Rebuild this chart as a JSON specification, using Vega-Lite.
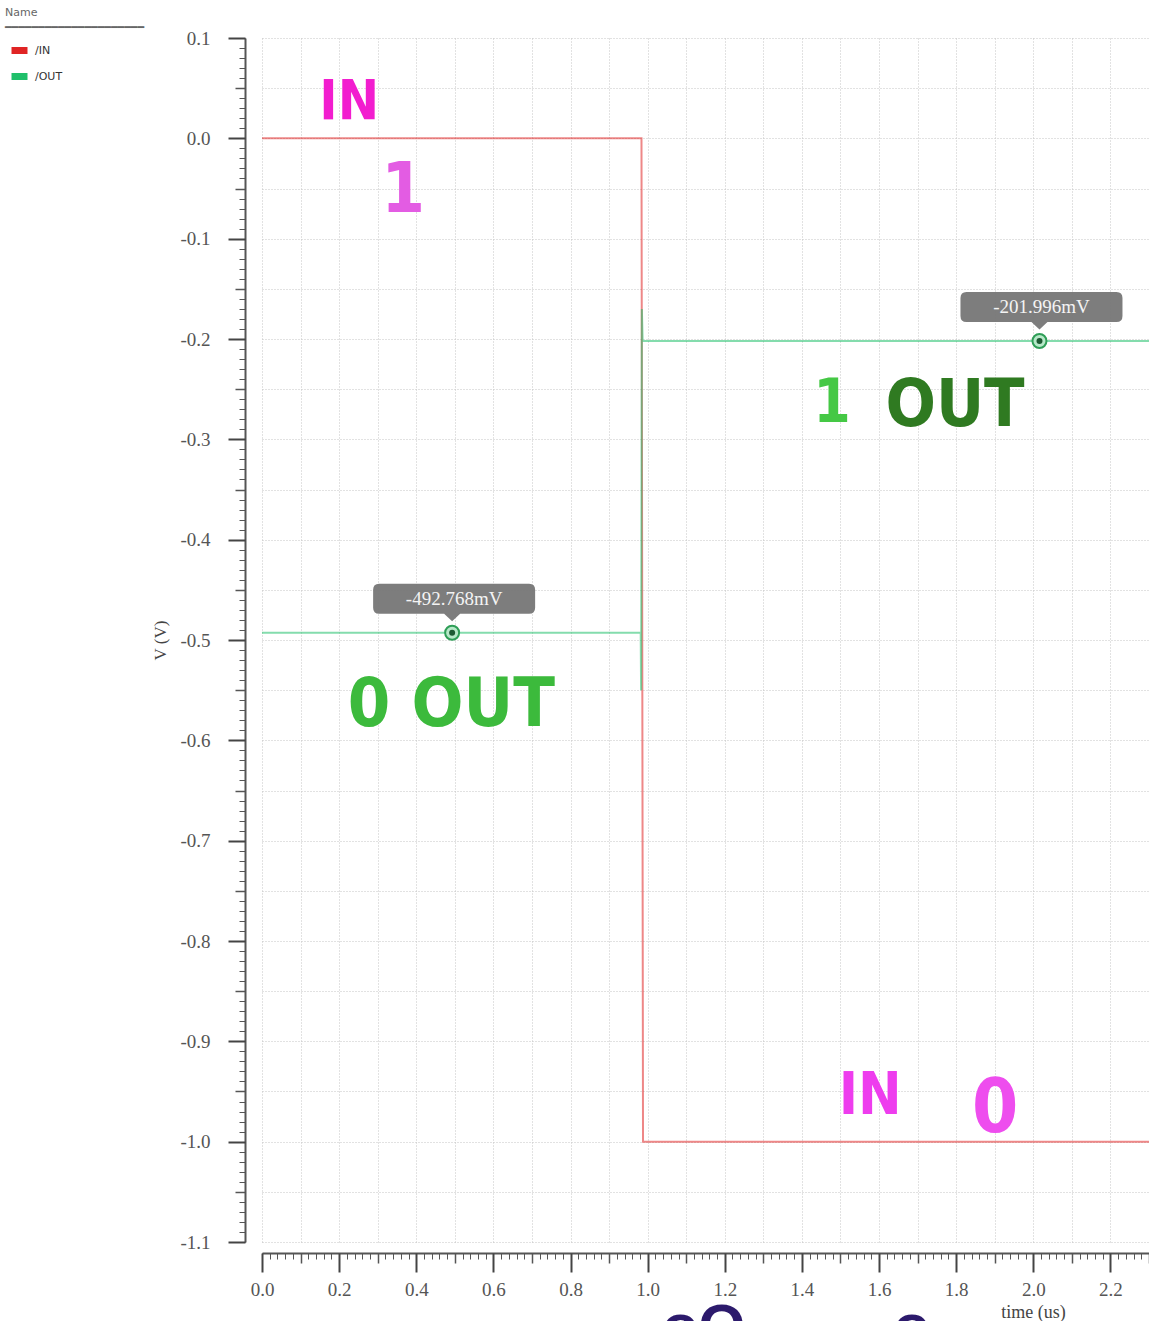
{
  "$schema": "https://vega.github.io/schema/vega-lite/v6.json",
  "width": 887,
  "height": 1204,
  "autosize": {"type": "none"},
  "padding": {"left": 262, "top": 38, "right": 0, "bottom": 79},
  "background": "white",
  "config": {"view": {"stroke": null}},
  "datasets": {
    "wave": [
      {"signal": "/IN", "t": 0, "v": 0},
      {"signal": "/IN", "t": 0.984, "v": 0},
      {"signal": "/IN", "t": 0.988, "v": -1.0},
      {"signal": "/IN", "t": 2.3, "v": -1.0},
      {"signal": "/OUT", "t": 0, "v": -0.492768},
      {"signal": "/OUT", "t": 0.982, "v": -0.492768},
      {"signal": "/OUT", "t": 0.983, "v": -0.55},
      {"signal": "/OUT", "t": 0.985, "v": -0.17},
      {"signal": "/OUT", "t": 0.987, "v": -0.201996},
      {"signal": "/OUT", "t": 2.3, "v": -0.201996}
    ],
    "markers": [
      {"t": 0.493, "v": -0.492768, "label": "-492.768mV"},
      {"t": 2.016, "v": -0.201996, "label": "-201.996mV"}
    ],
    "notes": [
      {"id": "inHigh", "t": 0.226, "v": 0.036, "text": "IN"},
      {"id": "oneIn", "t": 0.366, "v": -0.052, "text": "1"},
      {"id": "zeroOut", "t": 0.491, "v": -0.566, "text": "0 OUT"},
      {"id": "oneOut", "t": 1.478, "v": -0.265, "text": "1"},
      {"id": "outHigh", "t": 1.797, "v": -0.267, "text": "OUT"},
      {"id": "inLow", "t": 1.577, "v": -0.955, "text": "IN"},
      {"id": "zeroIn", "t": 1.901, "v": -0.968, "text": "0"},
      {"id": "below", "t": 1.145, "v": -1.186, "text": "oO"},
      {"id": "below", "t": 1.685, "v": -1.186, "text": "o"}
    ]
  },
  "layer": [
    {
      "data": {"name": "wave"},
      "mark": {"type": "line", "strokeWidth": 2, "opacity": 0.55},
      "encoding": {
        "x": {
          "field": "t", "type": "quantitative",
          "scale": {"domain": [0, 2.3], "nice": false, "zero": false},
          "axis": {
            "orient": "bottom", "title": null, "labels": false, "ticks": false, "domain": false,
            "grid": true, "gridColor": "#c4c4c4", "gridDash": [1, 2], "gridWidth": 1,
            "values": [0,0.1,0.2,0.3,0.4,0.5,0.6,0.7,0.8,0.9,1,1.1,1.2,1.3,1.4,1.5,1.6,1.7,1.8,1.9,2,2.1,2.2,2.3]
          }
        },
        "y": {
          "field": "v", "type": "quantitative",
          "scale": {"domain": [-1.1, 0.1], "nice": false, "zero": false},
          "axis": {
            "orient": "left", "title": null, "labels": false, "ticks": false, "domain": false,
            "grid": true, "gridColor": "#c4c4c4", "gridDash": [1, 2], "gridWidth": 1,
            "values": [0.1,0.05,0,-0.05,-0.1,-0.15,-0.2,-0.25,-0.3,-0.35,-0.4,-0.45,-0.5,-0.55,-0.6,-0.65,-0.7,-0.75,-0.8,-0.85,-0.9,-0.95,-1,-1.05,-1.1]
          }
        },
        "color": {
          "field": "signal", "type": "nominal",
          "scale": {"domain": ["/IN", "/OUT"], "range": ["#e02424", "#1fbf6a"]},
          "legend": {
            "orient": "none", "legendX": -257, "legendY": -31, "padding": 0,
            "title": ["Name", "━━━━━━━━━━━━━━━━━━━━━"],
            "titleFont": "DejaVu Sans", "titleFontSize": 11, "titleFontWeight": "normal",
            "titleColor": "#666", "titleLineHeight": 15, "titlePadding": 6,
            "labelFont": "DejaVu Sans", "labelFontSize": 11, "labelColor": "#333", "labelOffset": 4,
            "symbolType": "M-1,0H1", "symbolSize": 256, "symbolOffset": 3,
            "symbolStrokeWidth": 7, "symbolOpacity": 1, "rowPadding": -6
          }
        }
      }
    },
    {
      "data": {"name": "markers"},
      "mark": {"type": "point", "shape": "circle", "size": 196, "filled": true, "fill": "#b6e8c8", "stroke": "#2f9e57", "strokeWidth": 2, "opacity": 1},
      "encoding": {
        "x": {
          "field": "t", "type": "quantitative",
          "axis": {
            "orient": "bottom", "title": null, "labels": false, "grid": false,
            "offset": 11, "domain": true, "domainColor": "#555", "domainWidth": 2,
            "ticks": true, "tickSize": 6, "tickColor": "#555", "tickWidth": 1,
            "values": [0,0.02,0.04,0.06,0.08,0.1,0.12,0.14,0.16,0.18,0.2,0.22,0.24,0.26,0.28,0.3,0.32,0.34,0.36,0.38,0.4,0.42,0.44,0.46,0.48,0.5,0.52,0.54,0.56,0.58,0.6,0.62,0.64,0.66,0.68,0.7,0.72,0.74,0.76,0.78,0.8,0.82,0.84,0.86,0.88,0.9,0.92,0.94,0.96,0.98,1,1.02,1.04,1.06,1.08,1.1,1.12,1.14,1.16,1.18,1.2,1.22,1.24,1.26,1.28,1.3,1.32,1.34,1.36,1.38,1.4,1.42,1.44,1.46,1.48,1.5,1.52,1.54,1.56,1.58,1.6,1.62,1.64,1.66,1.68,1.7,1.72,1.74,1.76,1.78,1.8,1.82,1.84,1.86,1.88,1.9,1.92,1.94,1.96,1.98,2,2.02,2.04,2.06,2.08,2.1,2.12,2.14,2.16,2.18,2.2,2.22,2.24,2.26,2.28,2.3]
          }
        },
        "y": {
          "field": "v", "type": "quantitative",
          "axis": {
            "orient": "left", "title": null, "labels": false, "grid": false,
            "offset": 17, "domain": true, "domainColor": "#555", "domainWidth": 2,
            "ticks": true, "tickSize": 6, "tickColor": "#555", "tickWidth": 1,
            "values": [0.1,0.09,0.08,0.07,0.06,0.05,0.04,0.03,0.02,0.01,0,-0.01,-0.02,-0.03,-0.04,-0.05,-0.06,-0.07,-0.08,-0.09,-0.1,-0.11,-0.12,-0.13,-0.14,-0.15,-0.16,-0.17,-0.18,-0.19,-0.2,-0.21,-0.22,-0.23,-0.24,-0.25,-0.26,-0.27,-0.28,-0.29,-0.3,-0.31,-0.32,-0.33,-0.34,-0.35,-0.36,-0.37,-0.38,-0.39,-0.4,-0.41,-0.42,-0.43,-0.44,-0.45,-0.46,-0.47,-0.48,-0.49,-0.5,-0.51,-0.52,-0.53,-0.54,-0.55,-0.56,-0.57,-0.58,-0.59,-0.6,-0.61,-0.62,-0.63,-0.64,-0.65,-0.66,-0.67,-0.68,-0.69,-0.7,-0.71,-0.72,-0.73,-0.74,-0.75,-0.76,-0.77,-0.78,-0.79,-0.8,-0.81,-0.82,-0.83,-0.84,-0.85,-0.86,-0.87,-0.88,-0.89,-0.9,-0.91,-0.92,-0.93,-0.94,-0.95,-0.96,-0.97,-0.98,-0.99,-1,-1.01,-1.02,-1.03,-1.04,-1.05,-1.06,-1.07,-1.08,-1.09,-1.1]
          }
        }
      }
    },
    {
      "data": {"name": "markers"},
      "mark": {"type": "point", "shape": "circle", "size": 36, "filled": true, "fill": "#1d5a33", "opacity": 1},
      "encoding": {
        "x": {
          "field": "t", "type": "quantitative",
          "axis": {
            "orient": "bottom", "title": null, "labels": false, "grid": false, "domain": false,
            "offset": 11, "ticks": true, "tickSize": 10, "tickColor": "#555", "tickWidth": 1.5,
            "values": [0.1,0.3,0.5,0.7,0.9,1.1,1.3,1.5,1.7,1.9,2.1,2.3]
          }
        },
        "y": {
          "field": "v", "type": "quantitative",
          "axis": {
            "orient": "left", "title": null, "labels": false, "grid": false, "domain": false,
            "offset": 17, "ticks": true, "tickSize": 10, "tickColor": "#555", "tickWidth": 1.5,
            "values": [0.05,-0.05,-0.15,-0.25,-0.35,-0.45,-0.55,-0.65,-0.75,-0.85,-0.95,-1.05]
          }
        }
      }
    },
    {
      "data": {"name": "markers"},
      "mark": {
        "type": "point", "filled": true, "fill": "#767676", "opacity": 0.95, "strokeWidth": 0,
        "size": 40000,
        "shape": "M-0.73,-0.49H0.77Q0.83,-0.49 0.83,-0.43V-0.25Q0.83,-0.19 0.77,-0.19H0.08L0,-0.115L-0.08,-0.19H-0.73Q-0.79,-0.19 -0.79,-0.25V-0.43Q-0.79,-0.49 -0.73,-0.49Z"
      },
      "encoding": {
        "x": {
          "field": "t", "type": "quantitative",
          "axis": {
            "orient": "bottom", "grid": false, "domain": false, "offset": 11,
            "ticks": true, "tickSize": 19, "tickColor": "#444", "tickWidth": 2,
            "values": [0,0.2,0.4,0.6,0.8,1,1.2,1.4,1.6,1.8,2,2.2],
            "labelExpr": "replace(format(datum.value, '.1f'), '\u2212', '-')",
            "labelFont": "Liberation Serif", "labelFontSize": 19, "labelColor": "#555",
            "labelPadding": 8, "labelFlush": false, "labelOverlap": false,
            "title": "time (us)", "titleFont": "Liberation Serif", "titleFontSize": 18,
            "titleFontWeight": "normal", "titleColor": "#444",
            "titleX": 771, "titleY": 59, "titleAlign": "center", "titleBaseline": "middle"
          }
        },
        "y": {
          "field": "v", "type": "quantitative",
          "axis": {
            "orient": "left", "grid": false, "domain": false, "offset": 17,
            "ticks": true, "tickSize": 17, "tickColor": "#444", "tickWidth": 2,
            "values": [0.1,0,-0.1,-0.2,-0.3,-0.4,-0.5,-0.6,-0.7,-0.8,-0.9,-1,-1.1],
            "labelExpr": "replace(format(datum.value, '.1f'), '\u2212', '-')",
            "labelFont": "Liberation Serif", "labelFontSize": 19, "labelColor": "#555",
            "labelPadding": 18, "labelFlush": false, "labelOverlap": false,
            "title": "V (V)", "titleFont": "Liberation Serif", "titleFontSize": 17,
            "titleFontWeight": "normal", "titleColor": "#444",
            "titleX": -85, "titleY": 602, "titleAlign": "center", "titleBaseline": "middle", "titleAngle": -90
          }
        }
      }
    },
    {
      "data": {"name": "markers"},
      "mark": {"type": "text", "font": "Liberation Serif", "fontSize": 19, "color": "#f4f4f4", "dy": -34, "dx": 2, "align": "center", "baseline": "middle"},
      "encoding": {
        "x": {"field": "t", "type": "quantitative", "axis": null},
        "y": {"field": "v", "type": "quantitative", "axis": null},
        "text": {"field": "label"}
      }
    },
    {
      "data": {"name": "notes"},
      "transform": [{"filter": "datum.id === 'inHigh'"}],
      "mark": {"type": "text", "font": "DejaVu Sans Condensed, Liberation Sans", "fontWeight": "bold", "fontSize": 55, "color": "#f21dcf", "align": "center", "baseline": "middle"},
      "encoding": {
        "x": {"field": "t", "type": "quantitative", "axis": null},
        "y": {"field": "v", "type": "quantitative", "axis": null},
        "text": {"field": "text"}
      }
    },
    {
      "data": {"name": "notes"},
      "transform": [{"filter": "datum.id === 'oneIn'"}],
      "mark": {"type": "text", "font": "DejaVu Sans Condensed, Liberation Sans", "fontWeight": "bold", "fontSize": 70, "color": "#e35ce3", "align": "center", "baseline": "middle"},
      "encoding": {
        "x": {"field": "t", "type": "quantitative", "axis": null},
        "y": {"field": "v", "type": "quantitative", "axis": null},
        "text": {"field": "text"}
      }
    },
    {
      "data": {"name": "notes"},
      "transform": [{"filter": "datum.id === 'zeroOut'"}],
      "mark": {"type": "text", "font": "DejaVu Sans Condensed, Liberation Sans", "fontWeight": "bold", "fontSize": 68, "color": "#3cba3c", "align": "center", "baseline": "middle"},
      "encoding": {
        "x": {"field": "t", "type": "quantitative", "axis": null},
        "y": {"field": "v", "type": "quantitative", "axis": null},
        "text": {"field": "text"}
      }
    },
    {
      "data": {"name": "notes"},
      "transform": [{"filter": "datum.id === 'oneOut'"}],
      "mark": {"type": "text", "font": "DejaVu Sans Condensed, Liberation Sans", "fontWeight": "bold", "fontSize": 60, "color": "#45c845", "align": "center", "baseline": "middle"},
      "encoding": {
        "x": {"field": "t", "type": "quantitative", "axis": null},
        "y": {"field": "v", "type": "quantitative", "axis": null},
        "text": {"field": "text"}
      }
    },
    {
      "data": {"name": "notes"},
      "transform": [{"filter": "datum.id === 'outHigh'"}],
      "mark": {"type": "text", "font": "DejaVu Sans Condensed, Liberation Sans", "fontWeight": "bold", "fontSize": 66, "color": "#2f7a21", "align": "center", "baseline": "middle"},
      "encoding": {
        "x": {"field": "t", "type": "quantitative", "axis": null},
        "y": {"field": "v", "type": "quantitative", "axis": null},
        "text": {"field": "text"}
      }
    },
    {
      "data": {"name": "notes"},
      "transform": [{"filter": "datum.id === 'inLow'"}],
      "mark": {"type": "text", "font": "DejaVu Sans Condensed, Liberation Sans", "fontWeight": "bold", "fontSize": 58, "color": "#ee3dee", "align": "center", "baseline": "middle"},
      "encoding": {
        "x": {"field": "t", "type": "quantitative", "axis": null},
        "y": {"field": "v", "type": "quantitative", "axis": null},
        "text": {"field": "text"}
      }
    },
    {
      "data": {"name": "notes"},
      "transform": [{"filter": "datum.id === 'zeroIn'"}],
      "mark": {"type": "text", "font": "DejaVu Sans Condensed, Liberation Sans", "fontWeight": "bold", "fontSize": 74, "color": "#ee4dee", "align": "center", "baseline": "middle"},
      "encoding": {
        "x": {"field": "t", "type": "quantitative", "axis": null},
        "y": {"field": "v", "type": "quantitative", "axis": null},
        "text": {"field": "text"}
      }
    },
    {
      "data": {"name": "notes"},
      "transform": [{"filter": "datum.id === 'below'"}],
      "mark": {"type": "text", "font": "Liberation Sans", "fontWeight": "bold", "fontSize": 60, "color": "#2c1a6c", "align": "center", "baseline": "middle"},
      "encoding": {
        "x": {"field": "t", "type": "quantitative", "axis": null},
        "y": {"field": "v", "type": "quantitative", "axis": null},
        "text": {"field": "text"}
      }
    }
  ],
  "resolve": {"axis": {"x": "independent", "y": "independent"}}
}
